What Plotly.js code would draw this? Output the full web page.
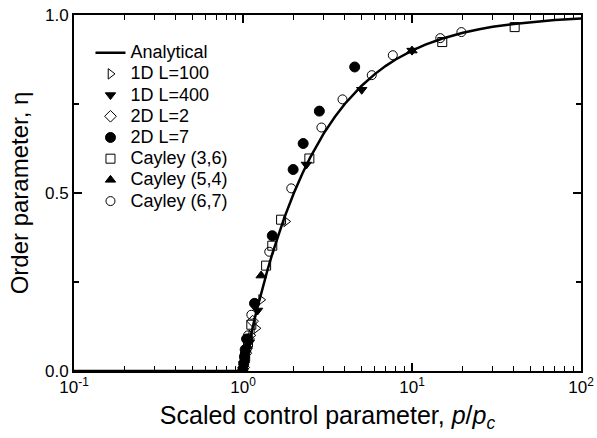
<!DOCTYPE html>
<html>
<head>
<meta charset="utf-8">
<script src="https://cdn.plot.ly/plotly-3.0.1.min.js"></script>
<style>html,body{margin:0;padding:0;background:#fff;}#plot{width:597px;height:438px;}</style>
</head>
<body>
<div id="plot"></div>
<script>
// Analytical curve
const anaX = [0.1, 1.0, 1.01, 1.02, 1.04, 1.06, 1.08, 1.1, 1.13, 1.16, 1.2, 1.25, 1.3, 1.4, 1.5, 1.6, 1.75, 2, 2.25, 2.5, 3, 3.5, 4, 5, 6, 7, 8, 10, 12, 15, 20, 25, 30, 40, 50, 70, 100];
const anaY = [0, 0, 0.0099, 0.0196, 0.0385, 0.0566, 0.0741, 0.0909, 0.1150, 0.1379, 0.1667, 0.2, 0.2308, 0.2857, 0.3333, 0.375, 0.4286, 0.5, 0.5556, 0.6, 0.6667, 0.7143, 0.75, 0.8, 0.8333, 0.8571, 0.875, 0.9, 0.9167, 0.9333, 0.95, 0.96, 0.9667, 0.975, 0.98, 0.9857, 0.99];

// 1D L=100
const d1L100X = [1.02, 1.06, 1.12, 1.2, 1.28, 1.8];
const d1L100Y = [0.03, 0.06, 0.10, 0.12, 0.20, 0.42];
// 1D L=400
const d1L400X = [1.01, 1.04, 1.09, 1.22, 2.37, 5.04, 10];
const d1L400Y = [0.02, 0.05, 0.08, 0.17, 0.58, 0.79, 0.90];
// 2D L=2
const d2L2X = [1.01, 1.04, 1.08, 1.14];
const d2L2Y = [0.01, 0.05, 0.09, 0.14];
// 2D L=7
const d2L7X = [1.0, 1.01, 1.02, 1.03, 1.05, 1.17, 1.49, 1.98, 2.27, 2.83, 4.58];
const d2L7Y = [0.005, 0.02, 0.04, 0.06, 0.09, 0.19, 0.38, 0.566, 0.639, 0.73, 0.854];
// Cayley (3,6)
const c36X = [1.03, 1.07, 1.12, 1.37, 1.49, 1.68, 2.47, 15.1, 40.5];
const c36Y = [0.04, 0.08, 0.13, 0.296, 0.352, 0.425, 0.597, 0.924, 0.966];
// Cayley (5,4)
const c54X = [1.02, 1.06, 1.28, 10];
const c54Y = [0.03, 0.07, 0.268, 0.90];
// Cayley (6,7)
const c67X = [0.99, 1.02, 1.07, 1.12, 1.43, 1.93, 2.91, 3.88, 5.78, 7.7, 14.7, 19.6];
const c67Y = [0.0, 0.03, 0.10, 0.158, 0.335, 0.513, 0.684, 0.763, 0.831, 0.887, 0.935, 0.952];

const xTickVals = [0.1, 1, 10, 100];
const xTickText = ['10<sup>-1</sup>', '10<sup>0</sup>', '10<sup>1</sup>', '10<sup>2</sup>'];
const yTickVals = [0, 0.5, 1];
const yTickText = ['0.0', '0.5', '1.0'];
const xMinor = [0.2,0.3,0.4,0.5,0.6,0.7,0.8,0.9,2,3,4,5,6,7,8,9,20,30,40,50,60,70,80,90];
const yMinor = [0.25, 0.75];

const F = 'Liberation Sans, Arial, sans-serif';
function lg(t) { return '<span style="font-size:18px">' + t + '</span>'; }
function mk(name, x, y, symbol, size) {
  return {x: x, y: y, name: lg(name), type: 'scatter', mode: 'markers',
    marker: {symbol: symbol, size: size, color: 'black', line: {color: 'black', width: 1}}};
}
const traces = [
  {x: anaX, y: anaY, name: lg('Analytical'), type: 'scatter', mode: 'lines', line: {color: 'black', width: 2.5}},
  mk('1D L=100', d1L100X, d1L100Y, 'triangle-right-open', 9),
  mk('1D L=400', d1L400X, d1L400Y, 'triangle-down', 9),
  mk('2D L=2', d2L2X, d2L2Y, 'diamond-open', 9),
  mk('2D L=7', d2L7X, d2L7Y, 'circle', 10),
  mk('Cayley (3,6)', c36X, c36Y, 'square-open', 9),
  mk('Cayley (5,4)', c54X, c54Y, 'triangle-up', 9),
  mk('Cayley (6,7)', c67X, c67Y, 'circle-open', 9)
];
const axCommon = {ticks: 'inside', showgrid: false, zeroline: false, showline: true, linecolor: 'black', linewidth: 2};
const layout = {
  width: 597, height: 438,
  margin: {l: 74, r: 16, t: 15, b: 67},
  paper_bgcolor: '#fff', plot_bgcolor: '#fff',
  font: {family: F, color: 'black', size: 16},
  showlegend: true,
  legend: {x: 0.0325, y: 0.938, xanchor: 'left', yanchor: 'top', bgcolor: 'rgba(0,0,0,0)',
    font: {family: F, size: 14, color: 'black'}, itemwidth: 30, tracegroupgap: 0},
  xaxis: Object.assign({}, axCommon, {type: 'log', range: [-1, 2], tickmode: 'array', tickvals: xTickVals, ticktext: xTickText,
    ticklen: 8, tickwidth: 1.5, tickcolor: 'black', mirror: 'allticks', tickfont: {family: F, size: 17},
    minor: {tickmode: 'array', tickvals: xMinor, ticks: 'inside', ticklen: 5, tickwidth: 1.2, tickcolor: 'black', showgrid: false},
    title: {text: 'Scaled control parameter, <i>p</i>/<i>p<sub>c</sub></i>', font: {family: F, size: 25}, standoff: 10}}),
  yaxis: Object.assign({}, axCommon, {range: [0, 1], tickmode: 'array', tickvals: yTickVals, ticktext: yTickText,
    ticklen: 8, tickwidth: 1.5, tickcolor: 'black', mirror: 'allticks', tickfont: {family: F, size: 17},
    minor: {tickmode: 'array', tickvals: yMinor, ticks: 'inside', ticklen: 5, tickwidth: 1.2, tickcolor: 'black', showgrid: false},
    title: {text: 'Order parameter, η', font: {family: F, size: 24}, standoff: 10}})
};
Plotly.newPlot('plot', traces, layout, {displayModeBar: false, staticPlot: true});
</script>
</body>
</html>
